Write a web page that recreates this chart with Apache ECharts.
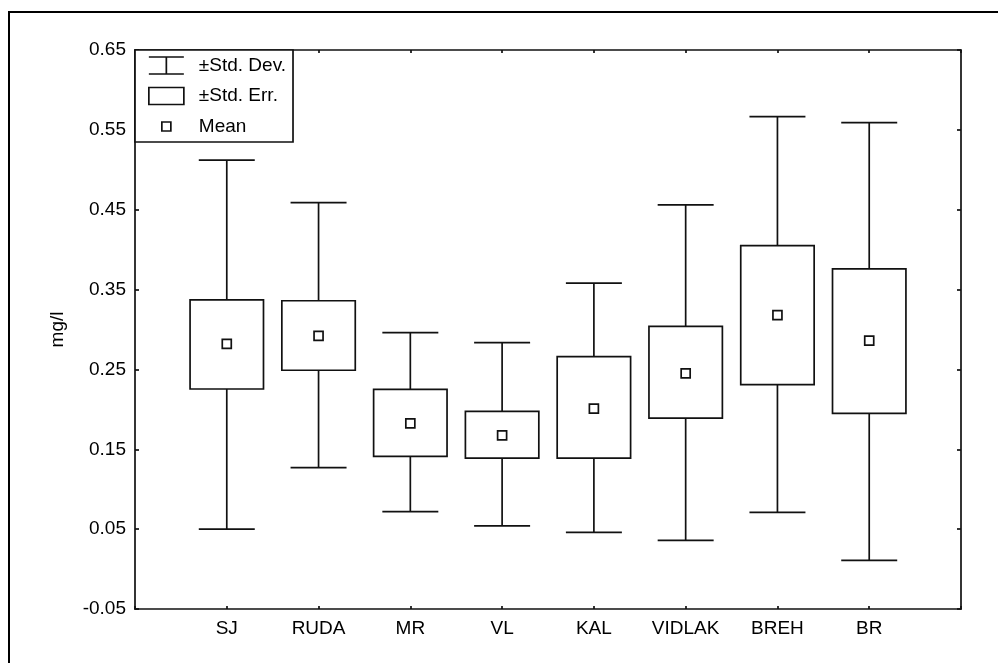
<!DOCTYPE html>
<html>
<head>
<meta charset="utf-8">
<script src="https://cdn.jsdelivr.net/npm/echarts@6/dist/echarts.min.js"></script>
<style>
  html, body { margin: 0; padding: 0; background: #fff; }
  #chart { width: 998px; height: 663px; }
</style>
</head>
<body>
<div id="chart"></div>
<script>
// ---- data ----
var categories = ['SJ', 'RUDA', 'MR', 'VL', 'KAL', 'VIDLAK', 'BREH', 'BR'];
var means   = [0.282, 0.292, 0.1825, 0.1675, 0.201, 0.245, 0.318, 0.286];
var seLow   = [0.2255, 0.249, 0.141, 0.139, 0.139, 0.189, 0.231, 0.195];
var seHigh  = [0.337, 0.336, 0.225, 0.1975, 0.266, 0.304, 0.405, 0.376];
var sdLow   = [0.050, 0.127, 0.072, 0.054, 0.046, 0.036, 0.071, 0.011];
var sdHigh  = [0.512, 0.459, 0.296, 0.2835, 0.358, 0.456, 0.5665, 0.559];
var yTicks  = { min: -0.05, max: 0.65, interval: 0.1 };
var legendNames = ['\u00B1Std. Dev.', '\u00B1Std. Err.', 'Mean'];
var yName = 'mg/l';

// padded category list: empty slot at each end
var xCats = [''].concat(categories, ['']);

var LINE = '#111';
var LW = 1.7;
var FONT = 'Liberation Sans, Arial, Helvetica, sans-serif';
var FS = 19;

var sdData = categories.map(function (c, i) { return [i + 1, sdLow[i], sdHigh[i]]; });
var seData = categories.map(function (c, i) { return [i + 1, seLow[i], seHigh[i]]; });
var meanData = categories.map(function (c, i) { return [i + 1, means[i]]; });

function renderSD(params, api) {
  var x = api.value(0);
  var lo = api.coord([x, api.value(1)]);
  var hi = api.coord([x, api.value(2)]);
  var band = api.size([1, 0])[0];
  var cw = band * 0.305;
  var st = { stroke: LINE, lineWidth: LW, fill: null };
  return {
    type: 'group',
    children: [
      { type: 'line', shape: { x1: lo[0], y1: lo[1], x2: hi[0], y2: hi[1] }, style: st },
      { type: 'line', shape: { x1: hi[0] - cw, y1: hi[1], x2: hi[0] + cw, y2: hi[1] }, style: st },
      { type: 'line', shape: { x1: lo[0] - cw, y1: lo[1], x2: lo[0] + cw, y2: lo[1] }, style: st }
    ]
  };
}

function renderSE(params, api) {
  var x = api.value(0);
  var lo = api.coord([x, api.value(1)]);
  var hi = api.coord([x, api.value(2)]);
  var band = api.size([1, 0])[0];
  var w = band * 0.8;
  return {
    type: 'rect',
    shape: { x: hi[0] - w / 2, y: hi[1], width: w, height: lo[1] - hi[1] },
    style: { fill: '#fff', stroke: LINE, lineWidth: LW }
  };
}

function renderMean(params, api) {
  var p = api.coord([api.value(0), api.value(1)]);
  var s = 9;
  return {
    type: 'rect',
    shape: { x: p[0] - s / 2, y: p[1] - s / 2, width: s, height: s },
    style: { fill: '#fff', stroke: LINE, lineWidth: LW }
  };
}

var chart = echarts.init(document.getElementById('chart'), null, { renderer: 'canvas' });

var axisLine = { show: true, onZero: false, lineStyle: { color: LINE, width: LW } };

chart.setOption({
  animation: false,
  backgroundColor: '#fff',
  textStyle: { fontFamily: FONT },
  graphic: [{
    type: 'rect',
    z: -10,
    silent: true,
    shape: { x: 9, y: 12, width: 1200, height: 1000 },
    style: { fill: null, stroke: '#000', lineWidth: 2 }
  }],
  grid: { left: 135, right: 37, top: 50, bottom: 54, containLabel: false },
  legend: {
    orient: 'vertical',
    left: 135,
    top: 50,
    padding: [6, 7, 6, 13],
    itemGap: 11.5,
    itemWidth: 35,
    itemHeight: 17,
    symbolKeepAspect: false,
    backgroundColor: '#fff',
    borderColor: LINE,
    borderWidth: LW,
    borderRadius: 0,
    selectedMode: false,
    textStyle: { fontFamily: FONT, fontSize: FS, color: '#000', lineHeight: 19, padding: [0, 0, 0, 10] },
    data: [
      { name: legendNames[0], icon: 'path://M0,0L35,0M17.5,0L17.5,17M0,17L35,17',
        itemStyle: { color: 'rgba(0,0,0,0)', borderColor: LINE, borderWidth: LW } },
      { name: legendNames[1], icon: 'path://M0,0L35,0L35,17L0,17Z',
        itemStyle: { color: 'rgba(0,0,0,0)', borderColor: LINE, borderWidth: LW } },
      { name: legendNames[2], icon: 'path://M0,0L0,0M13,4L22,4L22,13L13,13ZM35,17L35,17',
        itemStyle: { color: 'rgba(0,0,0,0)', borderColor: LINE, borderWidth: LW } }
    ]
  },
  xAxis: [{
    type: 'category',
    position: 'bottom',
    data: xCats,
    boundaryGap: false,
    axisLine: axisLine,
    axisTick: { show: true, inside: true, length: 3, interval: 0, lineStyle: { color: LINE, width: LW } },
    axisLabel: { show: true, interval: 0, margin: 10, fontFamily: FONT, fontSize: FS, color: '#000' },
    splitLine: { show: false }
  }, {
    type: 'category',
    position: 'top',
    data: xCats,
    boundaryGap: false,
    axisLine: axisLine,
    axisTick: { show: true, inside: true, length: 3, interval: 0, lineStyle: { color: LINE, width: LW } },
    axisLabel: { show: false },
    splitLine: { show: false }
  }],
  yAxis: [{
    type: 'value',
    position: 'left',
    min: yTicks.min,
    max: yTicks.max,
    interval: yTicks.interval,
    name: yName,
    nameLocation: 'middle',
    nameRotate: 90,
    nameGap: 68,
    nameTextStyle: { fontFamily: FONT, fontSize: FS, color: '#000' },
    axisLine: axisLine,
    axisTick: { show: true, inside: true, length: 4, lineStyle: { color: LINE, width: LW } },
    axisLabel: {
      show: true, margin: 9, fontFamily: FONT, fontSize: FS, color: '#000',
      showMinLabel: true, showMaxLabel: true,
      formatter: function (v) { return (Math.round(v * 100) / 100).toFixed(2); }
    },
    splitLine: { show: false }
  }, {
    type: 'value',
    position: 'right',
    min: yTicks.min,
    max: yTicks.max,
    interval: yTicks.interval,
    axisLine: axisLine,
    axisTick: { show: true, inside: true, length: 4, lineStyle: { color: LINE, width: LW } },
    axisLabel: { show: false },
    splitLine: { show: false }
  }],
  series: [{
    name: legendNames[0],
    type: 'custom',
    xAxisIndex: 0, yAxisIndex: 0,
    renderItem: renderSD,
    encode: { x: 0, y: [1, 2] },
    data: sdData,
    z: 2
  }, {
    name: legendNames[1],
    type: 'custom',
    xAxisIndex: 0, yAxisIndex: 0,
    renderItem: renderSE,
    encode: { x: 0, y: [1, 2] },
    data: seData,
    z: 3
  }, {
    name: legendNames[2],
    type: 'custom',
    xAxisIndex: 0, yAxisIndex: 0,
    renderItem: renderMean,
    encode: { x: 0, y: 1 },
    data: meanData,
    z: 4
  }]
});
</script>
</body>
</html>
